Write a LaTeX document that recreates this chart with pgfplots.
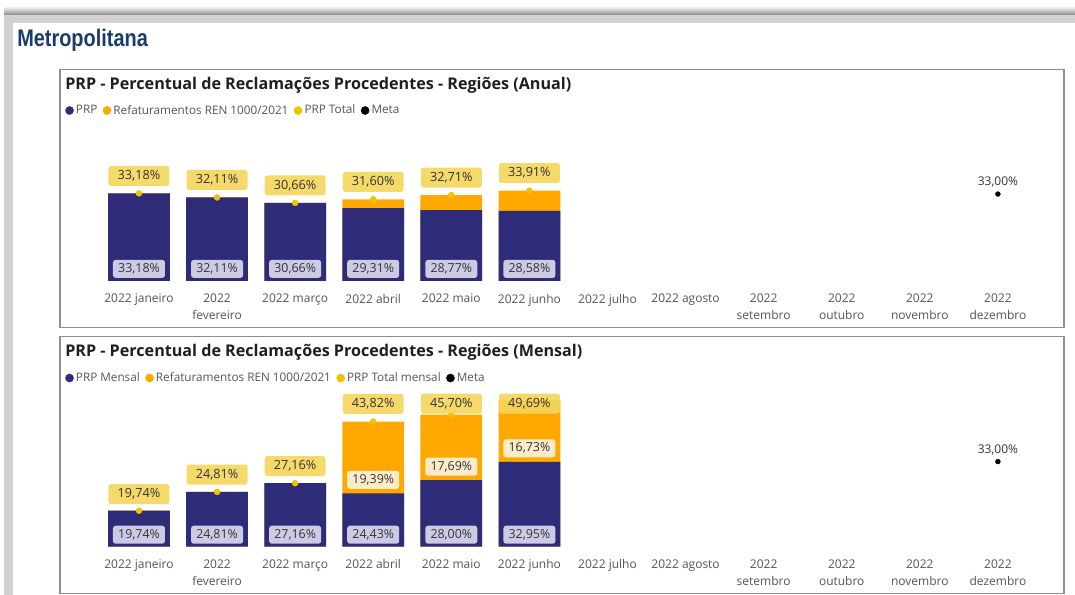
\documentclass[border=0pt]{standalone}
\usepackage{fontspec}
\setmainfont{Open Sans}
\newfontfamily\metrofont[FakeStretch=0.83]{Liberation Sans}
\usepackage{pgfplots}
\pgfplotsset{compat=1.18}

\definecolor{navy}{HTML}{2E2C78}
\definecolor{orng}{HTML}{FFA800}
\definecolor{ylwbox}{HTML}{F5D65C}
\definecolor{ylwdot}{HTML}{EEC400}
\definecolor{lavbox}{HTML}{CCCBE3}
\definecolor{crmbox}{HTML}{FCEBCB}
\definecolor{txt}{HTML}{333333}
\definecolor{ticktxt}{HTML}{555555}
\definecolor{metroblue}{HTML}{1A3D68}
\definecolor{panelgray}{HTML}{8E8E8E}

\pgfplotsset{
  legend image code/.code={\fill[#1] (3pt,0) circle (3pt);},
  valfmt/.style={
    nodes near coords={\pgfmathprintnumber[fixed,fixed zerofill,precision=2,use comma,assume math mode=true]{\pgfplotspointmeta}\%},
    nodes near coords align=center},
  prpaxis/.style={
    scale only axis, width=702.75pt,
    xmin=-0.5, xmax=11.5, ymin=10,
    xtick={0,...,11},
    xticklabels={2022 janeiro, {2022\\fevereiro}, 2022 março, 2022 abril,
      2022 maio, 2022 junho, 2022 julho, 2022 agosto, {2022\\setembro},
      {2022\\outubro}, {2022\\novembro}, {2022\\dezembro}},
    xticklabel style={align=center, font=\fontsize{9}{12.75}\selectfont,
      text=ticktxt, inner sep=0pt, anchor=north, yshift=-9.5pt},
    ytick=\empty,
    axis line style={draw=none},
    major tick length=0pt,
    legend style={draw=none, fill=none, legend columns=-1, anchor=west,
      font=\fontsize{8.8}{10}\selectfont, text=ticktxt, inner sep=0pt,
      nodes={inner sep=1.6pt},
      /tikz/every even column/.append style={column sep=2.5pt}},
  },
  barsty/.style={ybar, bar width=46.3pt, bar shift=0pt, draw=none, forget plot},
  navylbl/.style={draw=none, mark=none, forget plot, point meta=explicit, valfmt,
    every node near coord/.append style={fill=lavbox, rounded corners=2pt, text=txt,
      font=\fontsize{9.3}{10}\selectfont, minimum width=39pt, minimum height=13.5pt, inner sep=1pt}},
  orglbl/.style={draw=none, mark=none, forget plot, point meta=explicit, valfmt,
    every node near coord/.append style={fill=crmbox, rounded corners=2pt, text=txt,
      font=\fontsize{9.3}{10}\selectfont, minimum width=39pt, minimum height=13.5pt, inner sep=1pt}},
  totlbl/.style={draw=none, mark=none, forget plot, point meta=explicit, valfmt,
    every node near coord/.append style={fill=ylwbox, fill opacity=0.9, text opacity=1,
      rounded corners=2pt, text=txt,
      font=\fontsize{9.5}{10}\selectfont, minimum width=45.75pt, minimum height=15pt, inner sep=1pt}},
  totdot/.style={only marks, mark=*, mark size=2.2pt, color=ylwdot, forget plot},
  metasty/.style={only marks, mark=*, mark size=1.8pt, color=black, forget plot,
    point meta=y, valfmt,
    every node near coord/.append style={text=txt, font=\fontsize{9}{10}\selectfont, yshift=9pt}},
}

\begin{document}
\begin{tikzpicture}
\begin{scope}[x=0.75pt,y=-0.75pt]
\useasboundingbox (0,0) rectangle (1075,595);
\fill[white] (0,0) rectangle (1075,595);
\shade[top color=white, bottom color=black!45] (4,6) rectangle (1075,15);
\fill[black!18] (4,15) rectangle (1075,23);
\fill[black!18] (4,15) rectangle (13,595);
\node[anchor=base west, inner sep=0pt, text=metroblue,
  font=\metrofont\bfseries\fontsize{18}{20}\selectfont] at (17,47) {Metropolitana};
\draw[panelgray, line width=0.9pt] (60,69.5) rectangle (1064,327.7);
\draw[panelgray, line width=0.9pt] (60,336.7) rectangle (1064,593.3);
\node[anchor=base west, inner sep=0pt, text=black!88,
  font=\bfseries\fontsize{12.1}{14}\selectfont] at (65,89.3)
  {PRP - Percentual de Reclamações Procedentes - Regiões (Anual)};
\node[anchor=base west, inner sep=0pt, text=black!88,
  font=\bfseries\fontsize{12.1}{14}\selectfont] at (65,357)
  {PRP - Percentual de Reclamações Procedentes - Regiões (Mensal)};
\end{scope}

% Anual
\begin{axis}[prpaxis, at={(74.96pt,-210.75pt)}, anchor=south west,
  height=94.5pt, ymax=43.33, legend style={at={(-0.0373,1.353)}}]
\addplot[barsty, fill=orng] coordinates {(0,33.18) (1,32.11) (2,30.66) (3,31.60) (4,32.71) (5,33.91)};
\addplot[barsty, fill=navy] coordinates {(0,33.18) (1,32.11) (2,30.66) (3,29.31) (4,28.77) (5,28.58)};
\addplot[navylbl] coordinates {(0,13.2) [33.18] (1,13.2) [32.11] (2,13.2) [30.66] (3,13.2) [29.31] (4,13.2) [28.77] (5,13.2) [28.58]};
\addplot[totdot] coordinates {(0,33.18) (1,32.11) (2,30.66) (3,31.60) (4,32.71) (5,33.91)};
\addplot[totlbl] coordinates {(0,37.81) [33.18] (1,36.74) [32.11] (2,35.29) [30.66] (3,36.23) [31.60] (4,37.34) [32.71] (5,38.54) [33.91]};
\addplot[metasty] coordinates {(11,33.00)};
\addlegendimage{navy}\addlegendentry{PRP}
\addlegendimage{orng}\addlegendentry{Refaturamentos REN 1000/2021}
\addlegendimage{ylwdot}\addlegendentry{PRP Total}
\addlegendimage{black}\addlegendentry{Meta}
\end{axis}

% Mensal
\begin{axis}[prpaxis, at={(74.96pt,-410.03pt)}, anchor=south west,
  height=121.3pt, ymax=53.7, legend style={at={(-0.0373,1.043)}}]
\addplot[barsty, fill=orng] coordinates {(0,19.74) (1,24.81) (2,27.16) (3,43.82) (4,45.70) (5,49.69)};
\addplot[barsty, fill=navy] coordinates {(0,19.74) (1,24.81) (2,27.16) (3,24.43) (4,28.00) (5,32.95)};
\addplot[navylbl] coordinates {(0,13.24) [19.74] (1,13.24) [24.81] (2,13.24) [27.16] (3,13.24) [24.43] (4,13.24) [28.00] (5,13.24) [32.95]};
\addplot[orglbl] coordinates {(3,28.08) [19.39] (4,31.65) [17.69] (5,36.60) [16.73]};
\addplot[totdot] coordinates {(0,19.74) (1,24.81) (2,27.16) (3,43.82) (4,45.70) (5,49.69)};
\addplot[totlbl] coordinates {(0,24.2) [19.74] (1,29.5) [24.81] (2,31.8) [27.16] (3,48.6) [43.82] (4,48.65) [45.70] (5,48.65) [49.69]};
\addplot[metasty] coordinates {(11,33.00)};
\addlegendimage{navy}\addlegendentry{PRP Mensal}
\addlegendimage{orng}\addlegendentry{Refaturamentos REN 1000/2021}
\addlegendimage{ylwdot}\addlegendentry{PRP Total mensal}
\addlegendimage{black}\addlegendentry{Meta}
\end{axis}
\end{tikzpicture}
\end{document}
